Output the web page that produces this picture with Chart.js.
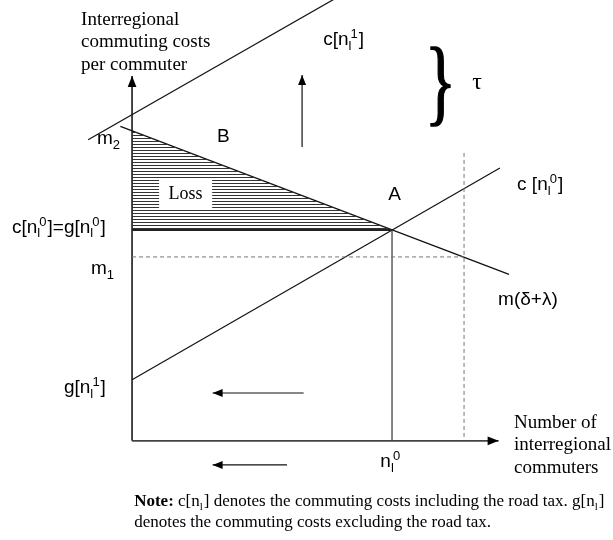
<!DOCTYPE html>
<html>
<head>
<meta charset="utf-8">
<script src="https://cdn.jsdelivr.net/npm/chart.js@4.4.0/dist/chart.umd.min.js"></script>
<style>
  html, body { margin: 0; padding: 0; background: #fff; }
</style>
</head>
<body>
<canvas id="diagram" width="613" height="540"></canvas>
<script>
// diagram units: n_l^0 = 100 commuters, c[n_l^0] = 100 cost units
const yAxis = [{x: 0, y: 0}, {x: 0, y: 173}];
const xAxis = [{x: 0, y: 0}, {x: 141, y: 0}];
const demand = [{x: -4.5, y: 149.1}, {x: 145, y: 78.9}];        // m(δ+λ)
const costOld = [{x: 0, y: 29}, {x: 141.5, y: 129.4}];          // c[n_l^0]
const costNew = [{x: -16.9, y: 142.7}, {x: 80, y: 211}];        // c[n_l^1]
const lossTop = [{x: 0, y: 147}, {x: 100, y: 100}];
const equilibrium = [{x: 0, y: 100}, {x: 100, y: 100}];
const dropA = [{x: 100, y: 100}, {x: 100, y: 0}];
const dashV = [{x: 127.7, y: 136.5}, {x: 127.7, y: 1}];
const dashH = [{x: 0, y: 87.2}, {x: 127.7, y: 87.2}];
const upArrow = [{x: 65.4, y: 139.3}, {x: 65.4, y: 173.5}];
const leftArrow1 = [{x: 66, y: 22.7}, {x: 31, y: 22.7}];
const leftArrow2 = [{x: 59.6, y: -11.4}, {x: 31, y: -11.4}];

const sansLabels = [
  {parts: ['m', {sub: '2'}], x: -13.5, y: 143},
  {parts: ['B'], x: 32.7, y: 144},
  {parts: ['A'], x: 98.5, y: 116.6},
  {parts: ['c[n', {sub: 'l', sup: '0'}, ']=g[n', {sub: 'l', sup: '0'}, ']'], x: -46.2, y: 101},
  {parts: ['m', {sub: '1'}], x: -15.8, y: 81.5},
  {parts: ['g[n', {sub: 'l', sup: '1'}, ']'], x: -26.2, y: 25.1},
  {parts: ['c [n', {sub: 'l', sup: '0'}, ']'], x: 148.1, y: 121.3},
  {parts: ['m(δ+λ)'], x: 140.8, y: 66.8},
  {parts: ['c[n', {sub: 'l', sup: '1'}, ']'], x: 73.5, y: 190},
  {parts: ['n', {sub: 'l', sup: '0'}], x: 95.5, y: -10}
];
const yTitle = ['Interregional', 'commuting costs', 'per commuter'];
const xTitle = ['Number of', 'interregional', 'commuters'];
const noteLines = [
  [{bold: 'Note:'}, ' c[n', {sub: 'l'}, '] denotes the commuting costs including the road tax. g[n', {sub: 'l'}, ']'],
  ['denotes the commuting costs excluding the road tax.']
];

const SANS = '"Liberation Sans", Arial, sans-serif';
const SERIF = '"Liberation Serif", "Times New Roman", serif';

// horizontal hatch for the loss triangle
const hatchCanvas = document.createElement('canvas');
hatchCanvas.width = 4;
hatchCanvas.height = 3;
const hctx = hatchCanvas.getContext('2d');
hctx.fillStyle = '#333';
hctx.fillRect(0, 0, 4, 1);
const hatch = hctx.createPattern(hatchCanvas, 'repeat');

function line(data, opts) {
  return Object.assign({
    data: data, showLine: true, pointRadius: 0, borderColor: '#111',
    borderWidth: 1.2, fill: false
  }, opts || {});
}

function drawRich(ctx, parts, x, y, size, family, small) {
  ctx.textBaseline = 'middle';
  ctx.textAlign = 'left';
  let cx = x;
  parts.forEach(p => {
    if (typeof p === 'string') {
      ctx.font = size + 'px ' + family;
      ctx.fillText(p, cx, y);
      cx += ctx.measureText(p).width;
    } else if (p.bold) {
      ctx.font = 'bold ' + size + 'px ' + family;
      ctx.fillText(p.bold, cx, y);
      cx += ctx.measureText(p.bold).width;
    } else {
      const s = Math.round(size * (small || 0.62));
      ctx.font = s + 'px ' + family;
      let w = 0;
      if (p.sub) {
        ctx.fillText(p.sub, cx, y + size * 0.32);
        w = ctx.measureText(p.sub).width;
      }
      if (p.sup) {
        const off = p.sub ? w * 0.7 : 0;
        ctx.fillText(p.sup, cx + off, y - size * 0.3);
        w = Math.max(w, off + ctx.measureText(p.sup).width);
      }
      cx += w + 1;
    }
  });
}

const overlay = {
  id: 'overlay',
  afterDatasetsDraw(chart) {
    const ctx = chart.ctx;
    const sx = chart.scales.x, sy = chart.scales.y;
    const px = v => sx.getPixelForValue(v);
    const py = v => sy.getPixelForValue(v);

    // arrowheads at the last point of flagged lines
    chart.data.datasets.forEach((ds, i) => {
      if (!ds.arrow) return;
      const pts = chart.getDatasetMeta(i).data;
      const a = pts[pts.length - 2], b = pts[pts.length - 1];
      const ang = Math.atan2(b.y - a.y, b.x - a.x);
      ctx.save();
      ctx.translate(b.x, b.y);
      ctx.rotate(ang);
      ctx.beginPath();
      ctx.moveTo(0, 0);
      ctx.lineTo(-ds.arrow, -ds.arrow * 0.4);
      ctx.lineTo(-ds.arrow, ds.arrow * 0.4);
      ctx.closePath();
      ctx.fillStyle = '#000';
      ctx.fill();
      ctx.restore();
    });

    ctx.save();

    // Loss box
    ctx.fillStyle = '#fff';
    ctx.fillRect(px(10.4), py(123.7), px(30.8) - px(10.4), py(110) - py(123.7));
    ctx.fillStyle = '#000';
    ctx.font = '18px ' + SERIF;
    ctx.textAlign = 'center';
    ctx.textBaseline = 'middle';
    ctx.fillText('Loss', (px(10.4) + px(30.8)) / 2, (py(123.7) + py(110)) / 2);

    sansLabels.forEach(l => drawRich(ctx, l.parts, px(l.x), py(l.y), 19, SANS, 0.68));

    // axis titles
    ctx.font = '19px ' + SERIF;
    ctx.textAlign = 'left';
    ctx.textBaseline = 'alphabetic';
    yTitle.forEach((t, i) => ctx.fillText(t, px(-19.6), py(197.2 - i * 10.7)));
    xTitle.forEach((t, i) => ctx.fillText(t, px(146.9), py(6.2 - i * 10.7)));

    // note
    noteLines.forEach((parts, i) => drawRich(ctx, parts, px(0.8), py(-28.8 - i * 9.8), 17, SERIF));

    // tax brace and tau
    ctx.save();
    ctx.translate(px(112.7), py(155.5));
    ctx.scale(0.68, 1);
    ctx.font = '95px ' + SERIF;
    ctx.textBaseline = 'alphabetic';
    ctx.lineWidth = 1.6;
    ctx.strokeStyle = '#000';
    ctx.fillText('}', 0, 0);
    ctx.strokeText('}', 0, 0);
    ctx.restore();
    ctx.font = '24px ' + SERIF;
    ctx.textAlign = 'center';
    ctx.textBaseline = 'middle';
    ctx.fillText('τ', px(132.7), py(170));
    ctx.restore();
  }
};

new Chart(document.getElementById('diagram'), {
  type: 'scatter',
  data: {
    datasets: [
      line(lossTop, {borderColor: 'transparent', borderWidth: 0, backgroundColor: hatch, fill: {value: 100}}),
      line(equilibrium, {borderColor: '#222', borderWidth: 2}),
      line(dashV, {borderColor: '#777', borderWidth: 1, borderDash: [4, 3]}),
      line(dashH, {borderColor: '#777', borderWidth: 1, borderDash: [4, 3]}),
      line(dropA, {borderColor: '#444', borderWidth: 1.3}),
      line(demand),
      line(costOld),
      line(costNew),
      line(yAxis, {borderColor: '#333', borderWidth: 1.8, arrow: 11}),
      line(xAxis, {borderColor: '#444', borderWidth: 1.8, arrow: 11}),
      line(upArrow, {borderWidth: 1.2, arrow: 10}),
      line(leftArrow1, {borderWidth: 1.2, arrow: 10}),
      line(leftArrow2, {borderWidth: 1.2, arrow: 10})
    ]
  },
  options: {
    responsive: false,
    animation: false,
    layout: {padding: 0},
    scales: {
      x: {type: 'linear', min: -50.8, max: 185, display: false},
      y: {type: 'linear', min: -47, max: 209, display: false}
    },
    plugins: {
      legend: {display: false},
      tooltip: {enabled: false}
    }
  },
  plugins: [overlay]
});
</script>
</body>
</html>
